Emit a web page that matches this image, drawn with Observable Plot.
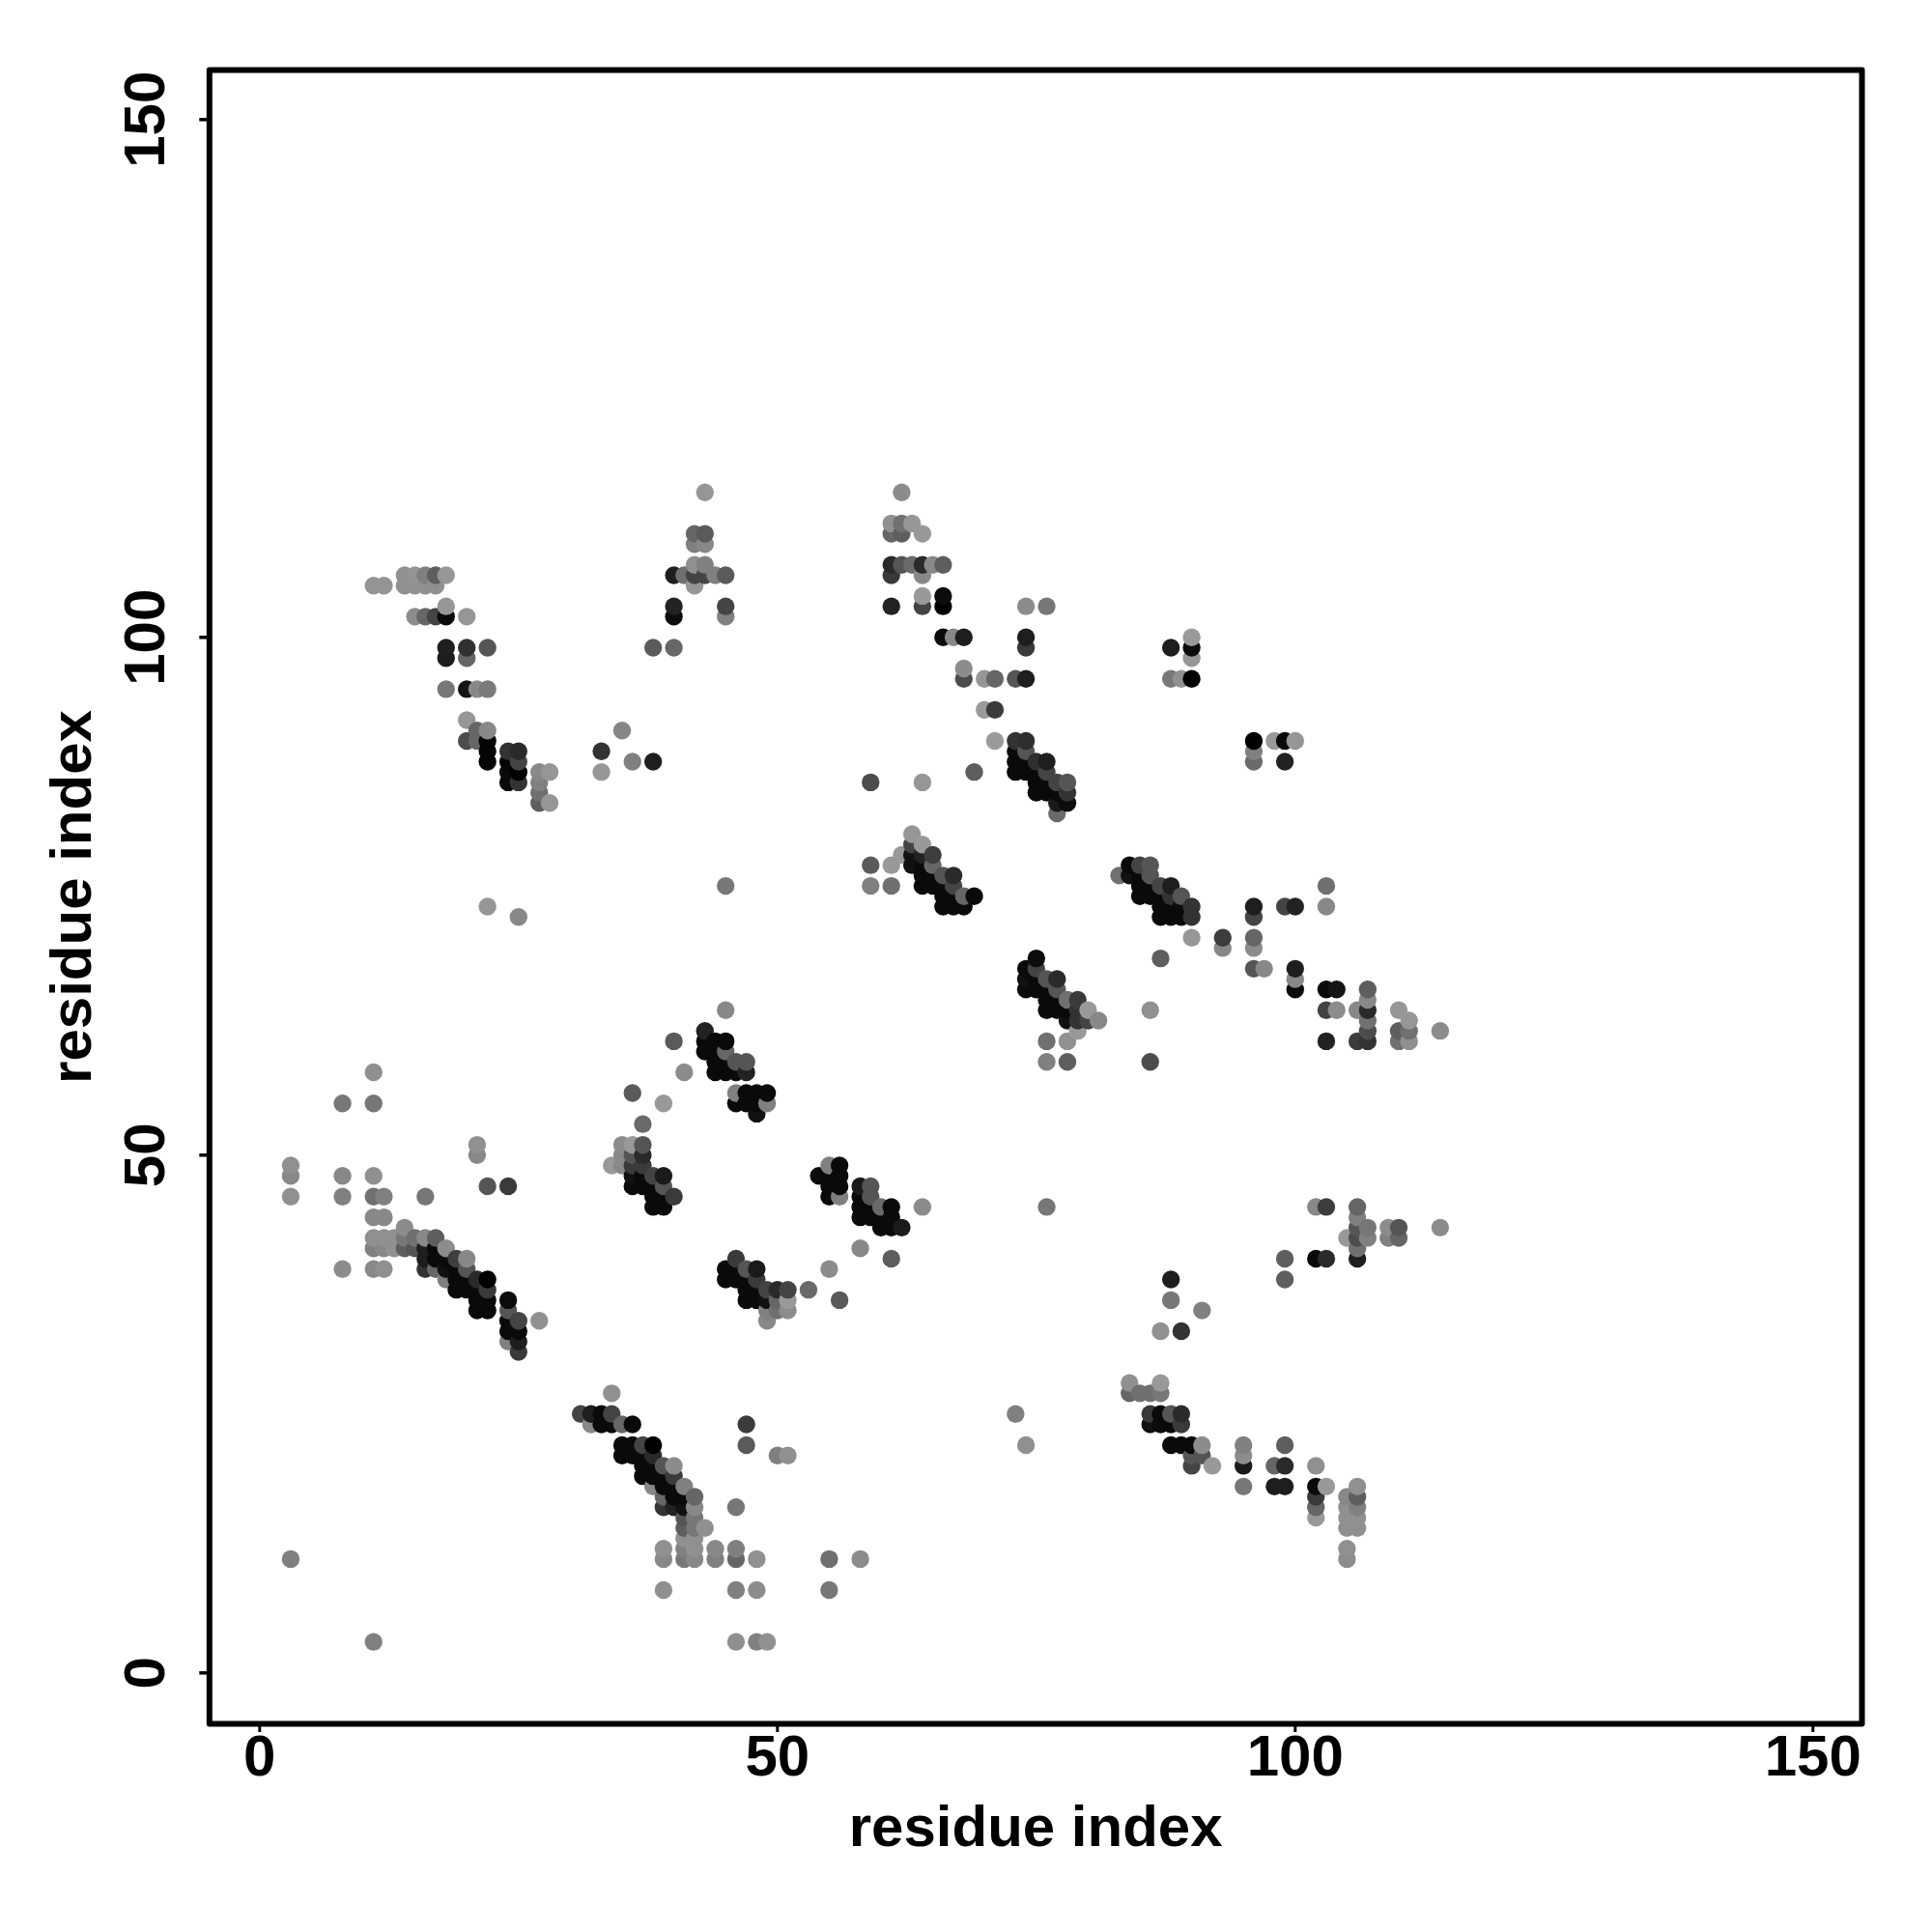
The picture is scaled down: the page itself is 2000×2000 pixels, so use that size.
<!DOCTYPE html>
<html><head><meta charset="utf-8">
<script src="https://cdn.jsdelivr.net/npm/d3@7"></script>
<script src="https://cdn.jsdelivr.net/npm/@observablehq/plot@0.6"></script>
<style>html,body{margin:0;padding:0;background:#fff}svg{display:block}</style>
</head><body><div id="chart"></div>
<script>
const axisTicks = [0, 50, 100, 150];
const axisTitle = "residue index";
const rowY = [114,111,110,109,107,106,105,104,103,102,100,99,98,97,96,95,93,92,91,90,89,88,87,86,85,84,83,81,80,79,78,77,76,75,74,73,71,70,69,68,67,66,65,64,63,62,61,60,59,58,56,55,54,53,51,50,49,48,47,46,45,44,43,42,41,40,39,38,37,36,35,34,33,32,31,28,27,25,24,22,21,20,19,18,17,16,15,14,13,12,11,8,3];
const rowX = [
[43,62],
[61,62,63],
[42,43,61,62,64],
[42,43],
[42,43,61,62,63,64,65,66],
[14,15,16,17,18,40,41,42,43,44,45,61,64],
[11,12,14,15,16,17,42],
[64,66],
[18,40,45,61,64,66,74,76],
[15,16,17,18,20,40,45],
[66,67,68,74,90],
[18,20,22,38,40,74,88,90],
[18,20,90],
[68],
[68,70,71,73,74,88,89,90],
[18,20,21,22],
[70,71],
[20],
[21,22,35],
[20,21,22,71,73,74,96,98,99,100],
[22,24,25,33,73,74,96],
[22,24,25,36,38,73,74,75,76,96,99],
[24,25,27,28,33,69,73,74,75,76],
[24,25,27,59,64,75,76,77,78],
[27,75,76,77,78],
[27,28,77,78],
[77],
[63],
[63,64],
[62,63,64,65],
[59,61,63,64,65,84,85,86],
[64,65,66,67,83,84,85,86],
[45,59,61,64,65,66,67,85,86,87,88,103],
[66,67,68,69,85,86,87,88,89],
[22,66,67,68,87,88,89,90,96,99,100,103],
[25,87,88,89,90,96],
[90,93,96],
[93,96],
[75,87],
[74,75,96,97,100],
[74,75,76,77,100],
[74,75,76,77,100,103,104,107],
[76,77,78,79,107],
[45,76,77,78,79,80,86,103,104,106,107,110],
[78,79,80,81,107,111],
[43,79,107,110,111,114],
[40,43,44,45,76,78,103,106,107,110,111],
[43,44,45],
[44,45,46,47,76,78,86],
[11,41,44,45,46,47],
[36,46,47,48,49],
[8,11,39,46,47,48,49],
[48],
[37],
[21,35,36,37],
[21,35,36,37],
[3,34,35,36,37,55,56],
[3,8,11,36,37,38,39,54,55,56],
[22,24,36,37,38,39,55,56,58,59],
[3,8,11,12,16,38,39,40,55,56,58,59],
[38,39,58,59,60,61,64,76,102,103,106],
[11,12,58,59,60,61,106],
[14,60,61,62,106,107,109,110,114],
[11,12,13,14,15,16,17,105,106,107,109,110],
[11,12,13,14,15,16,17,18,58,106],
[16,17,18,19,20,46,61,99,102,103,106],
[8,11,12,16,17,18,19,20,45,46,47,48,55],
[18,19,20,21,22,45,46,47,48,88,99],
[19,20,21,22,47,48,49,50,51,53],
[21,22,24,47,48,49,50,51,56,88],
[21,22,24,49,50,51,91],
[24,25,27,49],
[24,25,87,89],
[24,25],
[25],
[84,87],
[34,84,85,86,87],
[31,32,33,34,73,86,87,88,89],
[32,33,34,35,36,47,86,87,88,89],
[35,36,37,38,47,74,88,89,90,91,95,99],
[35,36,37,38,50,51,90,91,95],
[37,38,39,40,90,92,95,98,99,102],
[37,38,39,40],
[38,39,40,41,95,98,99,102,103,106],
[39,40,41,42,102,105,106],
[39,40,41,42,46,102,105,106],
[41,42,102,105,106],
[41,42,43,105,106],
[41,42],
[39,41,42,44,46,105],
[3,39,41,42,44,46,48,55,58,105],
[39,46,48,55],
[11,46,48,49]
];
const rowGray = [
[150,140],
[144,112,150],
[102,90,102,94,153],
[128,136],
[144,128,42,85,106,42,136,94],
[144,148,128,94,150,30,112,68,68,128,90,58,136],
[148,148,144,144,144,144,150],
[153,12],
[150,34,68,34,68,0,140,119],
[140,102,68,10,150,12,128],
[10,136,30,30,153],
[30,48,85,90,102,58,30,12],
[28,102,150],
[140],
[76,150,102,85,30,119,144,0],
[119,20,136,122],
[154,58],
[150],
[102,136,133],
[76,102,5,154,51,46,0,153,10,150],
[5,51,42,51,10,85,128],
[5,5,68,128,30,10,10,46,30,106,34],
[10,0,136,150,150,94,10,10,10,68],
[10,51,128,76,150,10,10,68,85],
[112,10,10,10,51],
[94,150,26,12],
[106],
[150],
[68,153],
[153,17,34,62],
[90,153,17,10,102,10,68,85],
[10,10,85,42,112,17,10,85],
[119,128,112,10,10,10,68,10,10,68,30,112],
[10,10,102,10,10,10,10,51,85],
[150,10,10,10,10,10,10,51,30,68,34,136],
[136,10,10,10,51,68],
[150,60,102],
[136,140],
[12,94],
[10,68,85,136,30],
[17,10,85,42,136],
[10,10,10,85,10,10,20,94],
[10,10,112,58,136],
[136,10,10,10,51,153,144,68,140,136,42,150],
[17,51,68,136,112,150],
[34,153,76,94,112,140],
[90,10,10,10,112,144,34,60,51,112,144],
[10,10,102],
[10,10,85,85,128,94,76],
[144,140,10,10,10,34],
[90,128,10,10,10],
[119,119,153,10,10,10,128],
[17],
[106],
[144,140,153,85],
[136,136,85,42],
[144,153,136,58,58,128,10],
[136,136,144,17,10,68,26,12,10,10],
[85,58,10,10,10,85,10,10,26,85],
[144,128,112,128,119,10,10,58,10,128,10,85],
[10,10,10,10,106,10,140,119,136,60,102],
[136,136,10,10,10,10,128],
[140,10,10,26,85,119,140,85,140],
[144,144,144,119,112,136,94,153,76,128,128,102],
[128,136,144,94,85,30,10,140,136,112],
[30,10,10,62,136,58,94,94,10,42,30],
[140,136,144,51,102,17,10,85,10,10,85,26,140],
[128,10,10,42,0,10,10,10,58,30,94],
[10,10,10,58,10,10,68,42,68,106],
[10,10,12,10,10,17,102,153,90,119],
[10,10,85,128,112,140,128],
[10,68,144,136],
[10,10,144,51],
[128,30],
[58],
[144,153],
[144,102,112,112,119],
[68,30,10,68,128,58,10,85,42],
[136,10,10,102,10,60,17,12,10,58],
[10,10,68,0,90,144,10,10,10,140,128,94],
[10,10,10,42,128,144,85,85,140],
[10,10,85,140,68,153,26,102,42,144],
[10,10,10,58],
[136,10,10,128,119,30,30,10,153,144],
[102,10,10,102,58,136,94],
[51,34,17,136,119,102,144,128],
[85,119,153,144,144],
[94,119,144,144,144],
[144,144],
[144,128,144,136,128,144],
[128,136,119,136,128,102,144,112,140,140],
[144,128,140,119],
[128,144,128,144]
];

const contacts = d3.sort(
  rowY.flatMap((y, k) => rowX[k].map((x, j) => ({x, y, gray: rowGray[k][j]}))),
  d => d.x, d => d.y
);

const pxPerUnit = 10.72, originX = 268.3, originY = 1731.3;
const frameLeft = 216.3, frameRight = 1927, frameTop = 72, frameBottom = 1784;
const fontStack = "'Liberation Sans', Arial, sans-serif";

const plot = Plot.plot({
  width: 2000, height: 2000,
  marginLeft: frameLeft, marginRight: 2000 - frameRight, marginTop: frameTop, marginBottom: 2000 - frameBottom,
  style: {background: "#fff", fontFamily: fontStack},
  x: {domain: [(frameLeft - originX) / pxPerUnit, (frameRight - originX) / pxPerUnit], range: [frameLeft, frameRight]},
  y: {domain: [(originY - frameBottom) / pxPerUnit, (originY - frameTop) / pxPerUnit], range: [frameBottom, frameTop]},
  color: {type: "identity"},
  marks: [
    Plot.dot(contacts, {x: "x", y: "y", r: 9.2, stroke: "none", fill: d => `rgb(${d.gray},${d.gray},${d.gray})`}),
    Plot.frame({stroke: "#000", strokeWidth: 6, strokeLinejoin: "round"}),
    Plot.axisX(axisTicks, {
      tickSize: 9, tickPadding: 2, strokeWidth: 3, fontSize: 60, fontWeight: "bold", fill: "#000",
      label: axisTitle, labelAnchor: "center", labelArrow: "none", labelOffset: 126, tickFormat: d => String(d)
    }),
    Plot.axisY(axisTicks, {
      tickSize: 10, tickPadding: 37, strokeWidth: 3.5, fontSize: 60, fontWeight: "bold", fill: "#000", tickRotate: -90,
      label: axisTitle, labelAnchor: "center", labelArrow: "none", labelOffset: 165, tickFormat: d => String(d)
    })
  ]
});
document.getElementById("chart").appendChild(plot);
</script></body></html>
